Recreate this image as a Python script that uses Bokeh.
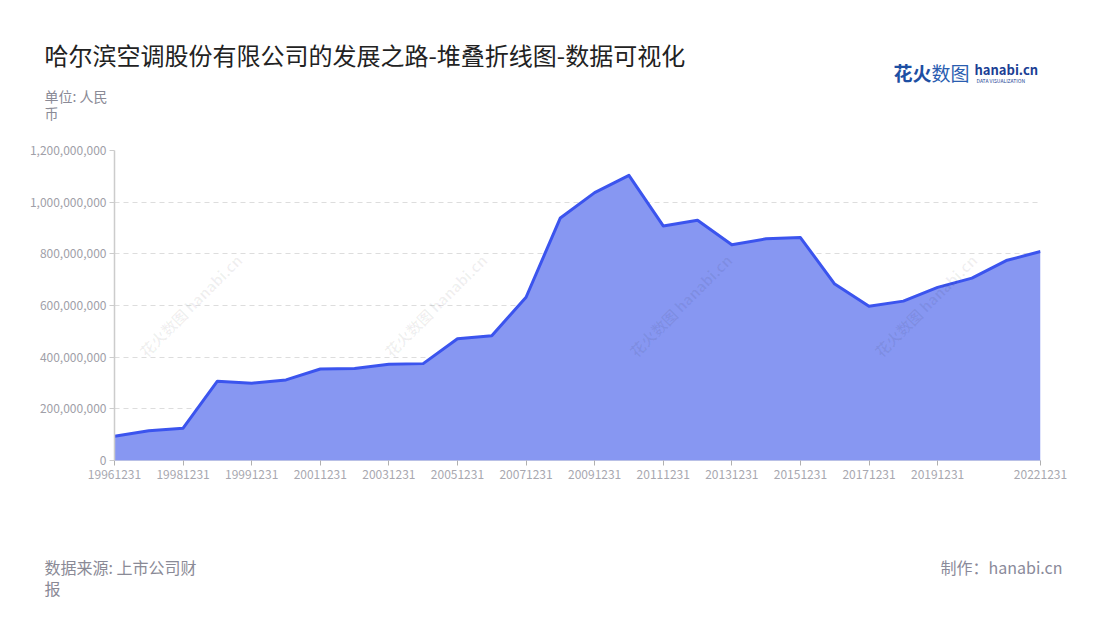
from bokeh.plotting import figure
from bokeh.models import (ColumnDataSource, FixedTicker, NumeralTickFormatter,
                          Range1d)
from bokeh.layouts import column
from bokeh.core.properties import value
from bokeh.embed import file_html
from bokeh.resources import INLINE

# ---- data ----
dates = ["19961231", "19971231", "19981231", "19990630", "19991231",
         "20001231", "20011231", "20021231", "20031231", "20041231",
         "20051231", "20061231", "20071231", "20081231", "20091231",
         "20101231", "20111231", "20121231", "20131231", "20141231",
         "20151231", "20161231", "20171231", "20181231", "20191231",
         "20201231", "20211231", "20221231"]
values = [94e6, 115e6, 125e6, 307e6, 299e6,
          312e6, 354e6, 356e6, 373e6, 375e6,
          471e6, 483e6, 632e6, 939e6, 1037e6,
          1104e6, 908e6, 930e6, 835e6, 858e6,
          863e6, 683e6, 597e6, 617e6, 670e6,
          706e6, 774e6, 809e6]
y_ticks = [0, 200e6, 400e6, 600e6, 800e6, 1000e6, 1200e6]
x_tick_idx = [0, 2, 4, 6, 8, 10, 12, 14, 16, 18, 20, 22, 24, 27]

title_text = "哈尔滨空调股份有限公司的发展之路-堆叠折线图-数据可视化"
unit_lines = ["单位: 人民", "币"]
source_lines = ["数据来源: 上市公司财", "报"]
maker_text = "制作：hanabi.cn"
watermark = "花火数图 hanabi.cn"

FONT = "Noto Sans CJK SC"
W = 1090
HEAD_H = 140          # page y 0..140
MAIN_H = 348          # page y 140..488
FOOT_H = 122          # page y 488..610


def text_fig(height):
    f = figure(width=W, height=height, output_backend="svg",
               toolbar_location=None,
               x_range=Range1d(0, W), y_range=Range1d(0, height),
               min_border=0, min_border_left=0, min_border_right=0,
               min_border_top=0, min_border_bottom=0)
    f.frame_align = False
    f.axis.visible = False
    f.grid.visible = False
    f.outline_line_color = None
    f.background_fill_color = "white"
    f.border_fill_color = "white"
    return f


def put(f, top, height, px, py, text, size, color, align="left",
        style="normal", angle=0, alpha=1.0):
    f.text(x=[px], y=[height - (py - top)], text=[text],
           text_font=value(FONT), text_font_size=value(size),
           text_color=color, text_align=align, text_baseline="middle",
           text_font_style=style, angle=angle, angle_units="deg",
           text_alpha=alpha)


# ---------- header ----------
head = text_fig(HEAD_H)
put(head, 0, HEAD_H, 44, 54, title_text, "24px", "#222222")
put(head, 0, HEAD_H, 44, 95, unit_lines[0], "14px", "#8a8a96")
put(head, 0, HEAD_H, 44, 112, unit_lines[1], "14px", "#8a8a96")
put(head, 0, HEAD_H, 893, 72, "花火", "19px", "#1d4fa3", style="bold")
put(head, 0, HEAD_H, 931, 72, "数图", "19px", "#2a5db0")
put(head, 0, HEAD_H, 974, 69, "hanabi.cn", "13px", "#1c3f94", style="bold")
put(head, 0, HEAD_H, 976, 80, "DATA VISUALIZATION", "5px", "#1c3f94")

# ---------- main chart ----------
idx = list(range(len(dates)))
src = ColumnDataSource(dict(x=idx, y=values, y0=[0] * len(values)))

p = figure(width=W, height=MAIN_H, output_backend="svg", toolbar_location=None,
           x_range=Range1d(0, len(dates) - 1), y_range=Range1d(0, 1200e6),
           min_border_left=114, min_border_right=W - 1040,
           min_border_top=10, min_border_bottom=MAIN_H - 10 - 310)
p.frame_align = False
p.outline_line_color = None
p.background_fill_color = "white"
p.border_fill_color = "white"

p.varea(x="x", y1="y0", y2="y", source=src, fill_color="#8797f2", fill_alpha=1.0)
p.line(x="x", y="y", source=src, line_color="#3b54ee", line_width=3,
       line_join="round")

p.xaxis.ticker = FixedTicker(ticks=x_tick_idx)
p.xaxis.major_label_overrides = {i: dates[i] for i in x_tick_idx}
p.xaxis.axis_line_color = "#b9c0e6"
p.xaxis.major_tick_line_color = "#b0b0b0"
p.xaxis.major_tick_out = 5
p.xaxis.major_tick_in = 0
p.xaxis.minor_tick_line_color = None
p.xaxis.major_label_text_font = FONT
p.xaxis.major_label_text_font_size = "12px"
p.xaxis.major_label_text_color = "#a8a8b0"
p.xaxis.major_label_standoff = 4

p.yaxis.ticker = FixedTicker(ticks=y_ticks)
p.yaxis.formatter = NumeralTickFormatter(format="0,0")
p.yaxis.axis_line_color = "#cccccc"
p.yaxis.axis_line_width = 1.5
p.yaxis.major_tick_line_color = "#cccccc"
p.yaxis.major_tick_out = 5
p.yaxis.major_tick_in = 0
p.yaxis.minor_tick_line_color = None
p.yaxis.major_label_text_font = FONT
p.yaxis.major_label_text_font_size = "12px"
p.yaxis.major_label_text_color = "#a0a0a8"
p.yaxis.major_label_standoff = 3

p.xgrid.grid_line_color = None
p.ygrid.ticker = FixedTicker(ticks=y_ticks)
p.ygrid.grid_line_color = "#dddddd"
p.ygrid.grid_line_dash = "5 4"
p.ygrid.grid_line_width = 1


# faint watermarks inside the plotting area
def wm_main(px, py):
    xd = (px - 114) / (1040 - 114) * (len(dates) - 1)
    yd = (460 - py) / 310 * 1200e6
    p.text(x=[xd], y=[yd], text=[watermark], text_font=value(FONT),
           text_font_size=value("15px"), text_color="#000000",
           text_align="center", text_baseline="middle",
           text_font_style="bold", angle=45, angle_units="deg",
           text_alpha=0.06)


for cx in (190, 435, 680, 925):
    wm_main(cx, 305)

# ---------- footer ----------
foot = text_fig(FOOT_H)
put(foot, 488, FOOT_H, 44, 566, source_lines[0], "16px", "#8a8a96")
put(foot, 488, FOOT_H, 44, 587, source_lines[1], "16px", "#8a8a96")
put(foot, 488, FOOT_H, 1062, 566, maker_text, "16px", "#8a8a9a", align="right")

layout = column(head, p, foot, spacing=0)
open("out.html", "w").write(file_html(layout, INLINE))
